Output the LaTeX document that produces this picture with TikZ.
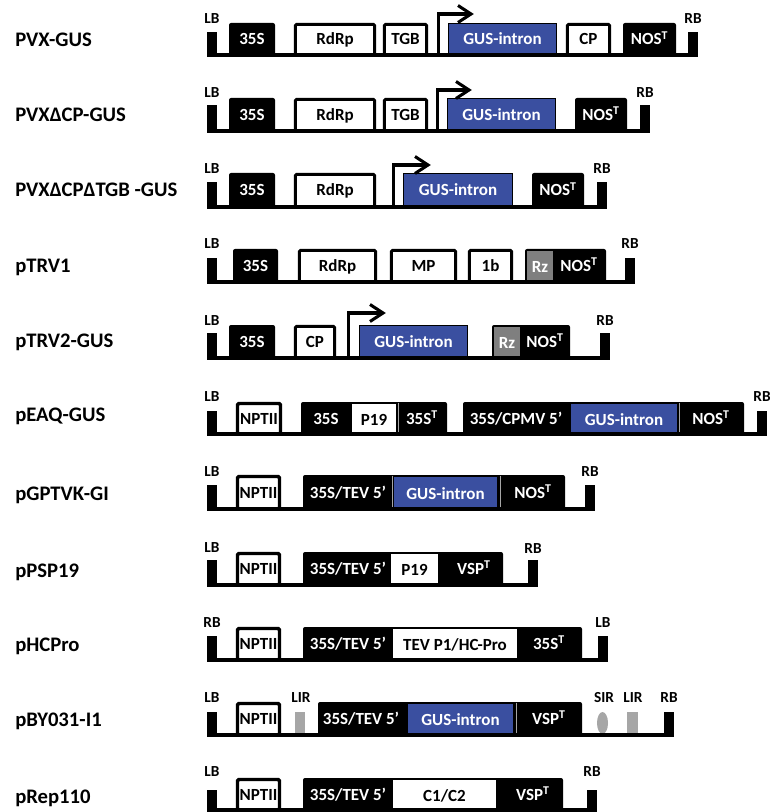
\documentclass[tikz,border=0pt]{standalone}
\usepackage{fontspec}
\setmainfont{Carlito}
\definecolor{gusblue}{HTML}{3A4FA0}
\definecolor{rzgray}{HTML}{7F7F7F}
\definecolor{lirgray}{HTML}{A6A6A6}
% #1 name #2 style #3 textcolor #4 inset #5 x1 #6 x2 #7 ytop #8 ybottom #9 text
\newcommand\bx[9]{%
  \path[#2] ({#5+#4},{#7+#4}) rectangle ({#6-#4},#8);
  \node[intxt,text=#3,anchor=base] (#1) at ({(#5+#6)/2},{(#7+#8)/2+6}) {#9};}
% text only inside a black box: #1 name #2 x #3 ytop #4 ybottom #5 text
\newcommand\tx[5]{\node[intxt,text=white,anchor=base] (#1) at (#2,{(#3+#4)/2+6}) {#5};}
% border bar: #1 name #2 x1 #3 ytop #4 ybottom #5 label y #6 label
\newcommand\tbar[6]{%
  \fill ({#2},#3) rectangle ({#2+10},{#4+1.5});
  \node[brd] (#1) at ({#2+5},#5) {#6};}
% promoter arrow: #1 x #2 ytop #3 ybottom #4 x end
\newcommand\prom[4]{%
  \draw[arr] (#1,#3) |- ({#4-1},#2);
  \draw[arr,line join=miter] ({#4-13},{#2-8.5}) -- (#4,#2) -- ({#4-13},{#2+8.5});}
\newcommand\sep[3]{\draw[sepline] (#1,{#2+0.5}) -- (#1,{#3-1});}
\begin{document}
\begin{tikzpicture}[x=0.75pt,y=-0.75pt,
  lbl/.style={font=\bfseries\fontsize{15.5}{18}\selectfont, anchor=base west, inner sep=0},
  brd/.style={font=\bfseries\fontsize{11.5}{13}\selectfont, inner sep=0},
  intxt/.style={font=\bfseries\fontsize{12.75}{15}\selectfont, inner sep=0},
  wb/.style={fill=white, draw=black, line width=2.2pt, rounded corners=1pt},
  nb/.style={fill=white, draw=black, line width=2.6pt, rounded corners=1pt},
  kb/.style={fill=black, rounded corners=1.5pt},
  gb/.style={fill=gusblue, draw=black, line width=1pt},
  gi/.style={fill=gusblue},
  wi/.style={fill=white},
  rz/.style={fill=rzgray},
  baseline/.style={line width=3pt},
  arr/.style={line width=2.3pt},
  sepline/.style={line width=0.4pt, draw=gray!70}]
\useasboundingbox (0,0) rectangle (769,812);
\fill[white] (0,0) rectangle (769,812);

% ---------- Row 1: PVX-GUS ----------
\node[lbl] (n1) at (15,46.6) {PVX-GUS};
\bx{r1a}{kb}{white}{0}{229}{275}{23}{55}{35S}
\bx{r1b}{wb}{black}{1.3}{294}{376}{23}{55}{RdRp}
\bx{r1c}{wb}{black}{1.3}{383}{428}{23}{55}{TGB}
\bx{r1d}{gb}{white}{0.5}{448}{557}{23}{55}{GUS-intron}
\bx{r1e}{wb}{black}{1.3}{566}{611}{23}{55}{CP}
\bx{r1f}{kb}{white}{0}{623}{676}{23}{55}{NOS\textsuperscript{T}}
\prom{438.5}{14}{55}{471}
\tbar{r1l}{207}{32}{55}{19}{LB}
\tbar{r1r}{688}{32}{55}{19}{RB}
\draw[baseline] (207,55) -- (698,55);

% ---------- Row 2: PVXdCP-GUS ----------
\node[lbl] (n2) at (15,121.6) {PVXΔCP-GUS};
\bx{r2a}{kb}{white}{0}{229}{275}{98}{131}{35S}
\bx{r2b}{wb}{black}{1.3}{294}{376}{98}{131}{RdRp}
\bx{r2c}{wb}{black}{1.3}{383}{428}{98}{131}{TGB}
\bx{r2d}{gb}{white}{0.5}{447}{556}{98}{131}{GUS-intron}
\bx{r2f}{kb}{white}{0}{575}{627}{98}{131}{NOS\textsuperscript{T}}
\prom{437.5}{90}{131}{469}
\tbar{r2l}{207}{105}{131}{93}{LB}
\tbar{r2r}{640}{105}{131}{93}{RB}
\draw[baseline] (207,131) -- (650,131);

% ---------- Row 3: PVXdCPdTGB-GUS ----------
\node[lbl] (n3) at (15,196.6) {PVXΔCPΔTGB -GUS};
\bx{r3a}{kb}{white}{0}{229}{275}{173}{207}{35S}
\bx{r3b}{wb}{black}{1.3}{294}{376}{173}{207}{RdRp}
\bx{r3d}{gb}{white}{0.5}{403}{513}{173}{207}{GUS-intron}
\bx{r3f}{kb}{white}{0}{532}{584}{173}{207}{NOS\textsuperscript{T}}
\prom{393.5}{165}{207}{428}
\tbar{r3l}{207}{182}{207}{169}{LB}
\tbar{r3r}{597}{182}{207}{169}{RB}
\draw[baseline] (207,207) -- (607,207);

% ---------- Row 4: pTRV1 ----------
\node[lbl] (n4) at (15,272.6) {pTRV1};
\bx{r4a}{kb}{white}{0}{233}{278}{249}{282}{35S}
\bx{r4b}{wb}{black}{1.3}{298}{377}{249}{282}{RdRp}
\bx{r4c}{wb}{black}{1.3}{390}{457}{249}{282}{MP}
\bx{r4d}{wb}{black}{1.3}{468}{513}{249}{282}{1b}
\bx{r4f}{kb}{white}{0}{525}{606}{249}{282}{}
\bx{r4e}{rz}{white}{0}{527}{553}{251}{282}{Rz}
\tx{r4g}{579}{249}{282}{NOS\textsuperscript{T}}
\tbar{r4l}{207}{258}{282}{244}{LB}
\tbar{r4r}{625}{258}{282}{244}{RB}
\draw[baseline] (207,282) -- (635,282);

% ---------- Row 5: pTRV2-GUS ----------
\node[lbl] (n5) at (15,347.6) {pTRV2-GUS};
\bx{r5a}{kb}{white}{0}{229}{275}{325}{358}{35S}
\bx{r5b}{wb}{black}{1.3}{294}{336}{325}{358}{CP}
\bx{r5d}{gb}{white}{0.5}{359}{468}{325}{358}{GUS-intron}
\bx{r5f}{kb}{white}{0}{492}{570}{325}{358}{}
\bx{r5e}{rz}{white}{0}{494}{520}{327}{358}{Rz}
\tx{r5g}{545}{325}{358}{NOS\textsuperscript{T}}
\prom{348.5}{313}{358}{383}
\tbar{r5l}{207}{333}{358}{321}{LB}
\tbar{r5r}{600}{333}{358}{321}{RB}
\draw[baseline] (207,358) -- (610,358);

% ---------- Row 6: pEAQ-GUS ----------
\node[lbl] (n6) at (15,421.6) {pEAQ-GUS};
\bx{r6a}{nb}{black}{1.5}{236}{282}{402}{434}{NPTII}
\bx{r6b}{kb}{white}{0}{301}{447}{402}{434}{}
\tx{r6c}{326}{402}{434}{35S}
\bx{r6d}{wi}{black}{0}{352}{396}{404}{434}{P19}
\sep{398}{402}{434}
\tx{r6e}{422}{402}{434}{35S\textsuperscript{T}}
\bx{r6f}{kb}{white}{0}{463}{744}{402}{434}{}
\tx{r6g}{516}{402}{434}{35S/CPMV 5’}
\bx{r6h}{gi}{white}{0}{571}{677}{404}{434}{GUS-intron}
\sep{679}{402}{434}
\tx{r6i}{711}{402}{434}{NOS\textsuperscript{T}}
\tbar{r6l}{207}{411}{434}{397}{LB}
\tbar{r6r}{757}{411}{434}{397}{RB}
\draw[baseline] (207,434) -- (767,434);

% ---------- Row 7: pGPTVK-GI ----------
\node[lbl] (n7) at (15,500.6) {pGPTVK-GI};
\bx{r7a}{nb}{black}{1.5}{236}{281}{475}{509}{NPTII}
\bx{r7b}{kb}{white}{0}{303}{565}{475}{509}{}
\tx{r7c}{348}{475}{509}{35S/TEV 5’}
\sep{392}{475}{509}
\bx{r7d}{gi}{white}{0}{394}{497}{477}{509}{GUS-intron}
\sep{500}{475}{509}
\tx{r7e}{533}{475}{509}{NOS\textsuperscript{T}}
\tbar{r7l}{207}{485}{509}{472}{LB}
\tbar{r7r}{585}{485}{509}{472}{RB}
\draw[baseline] (207,509) -- (595,509);

% ---------- Row 8: pPSP19 ----------
\node[lbl] (n8) at (15,577.6) {pPSP19};
\bx{r8a}{nb}{black}{1.5}{236}{281}{552}{585}{NPTII}
\bx{r8b}{kb}{white}{0}{303}{503}{552}{585}{}
\tx{r8c}{348}{552}{585}{35S/TEV 5’}
\bx{r8d}{wi}{black}{0}{391}{438}{554}{585}{P19}
\tx{r8e}{474}{552}{585}{VSP\textsuperscript{T}}
\tbar{r8l}{207}{560}{585}{548}{LB}
\tbar{r8r}{528}{560}{585}{549}{RB}
\draw[baseline] (207,585) -- (538,585);

% ---------- Row 9: pHCPro ----------
\node[lbl] (n9) at (15,651.6) {pHCPro};
\bx{r9a}{nb}{black}{1.5}{236}{281}{627}{660}{NPTII}
\bx{r9b}{kb}{white}{0}{303}{582}{627}{660}{}
\tx{r9c}{348}{627}{660}{35S/TEV 5’}
\bx{r9d}{wi}{black}{0}{393}{517}{629}{660}{TEV P1/HC-Pro}
\tx{r9e}{549}{627}{660}{35S\textsuperscript{T}}
\tbar{r9l}{207}{636}{660}{623}{RB}
\tbar{r9r}{598}{636}{660}{623}{LB}
\draw[baseline] (207,660) -- (608,660);

% ---------- Row 10: pBY031-I1 ----------
\node[lbl] (n10) at (15,726.6) {pBY031-I1};
\bx{r10a}{nb}{black}{1.5}{236}{281}{702}{735}{NPTII}
\fill[lirgray] (295,712) rectangle (305,733);
\node[brd] (r10lir1) at (301,698) {LIR};
\bx{r10b}{kb}{white}{0}{318}{582}{702}{735}{}
\tx{r10c}{361}{702}{735}{35S/TEV 5’}
\bx{r10d}{gi}{white}{0}{408}{513}{704}{735}{GUS-intron}
\sep{516}{702}{735}
\tx{r10e}{549}{702}{735}{VSP\textsuperscript{T}}
\fill[lirgray] (602.5,723) ellipse [x radius=5.5, y radius=11];
\node[brd] (r10sir) at (604,698) {SIR};
\fill[lirgray] (627,712) rectangle (638,733);
\node[brd] (r10lir2) at (633,698) {LIR};
\tbar{r10l}{207}{712}{735}{698}{LB}
\tbar{r10r}{664}{712}{735}{698}{RB}
\draw[baseline] (207,735) -- (674,735);

% ---------- Row 11: pRep110 ----------
\node[lbl] (n11) at (15,803.6) {pRep110};
\bx{r11a}{nb}{black}{1.5}{236}{281}{778}{810}{NPTII}
\bx{r11b}{kb}{white}{0}{303}{563}{778}{810}{}
\tx{r11c}{348}{778}{810}{35S/TEV 5’}
\bx{r11d}{wi}{black}{0}{393}{496}{780}{810}{C1/C2}
\tx{r11e}{533}{778}{810}{VSP\textsuperscript{T}}
\tbar{r11l}{207}{790}{810}{772}{LB}
\tbar{r11r}{587}{790}{810}{772}{RB}
\draw[baseline] (207,810) -- (597,810);
\end{tikzpicture}
\end{document}
